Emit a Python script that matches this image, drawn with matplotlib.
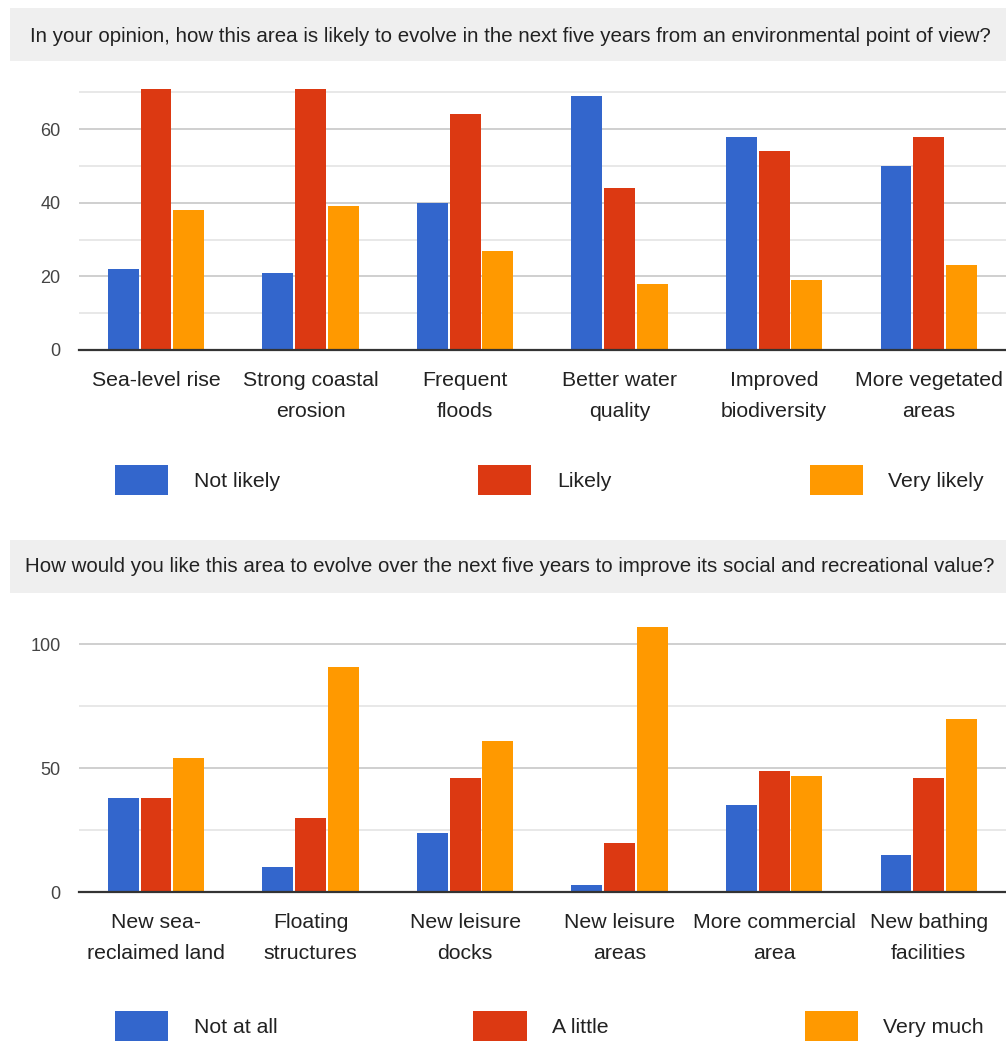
import matplotlib
matplotlib.use("Agg")
import matplotlib.pyplot as plt
from matplotlib.patches import Rectangle, Patch
import numpy as np

# ---------------- data ----------------
top_title = "In your opinion, how this area is likely to evolve in the next five years from an environmental point of view?"
top_categories = ["Sea-level rise", "Strong coastal\nerosion", "Frequent\nfloods",
                  "Better water\nquality", "Improved\nbiodiversity", "More vegetated\nareas"]
top_series = ["Not likely", "Likely", "Very likely"]
top_not_likely = [22, 21, 40, 69, 58, 50]
top_likely = [71, 71, 64, 44, 54, 58]
top_very_likely = [38, 39, 27, 18, 19, 23]
top_yticks = [0, 20, 40, 60]

bot_title = "How would you like this area to evolve over the next five years to improve its social and recreational value?"
bot_categories = ["New sea-\nreclaimed land", "Floating\nstructures", "New leisure\ndocks",
                  "New leisure\nareas", "More commercial\narea", "New bathing\nfacilities"]
bot_series = ["Not at all", "A little", "Very much"]
bot_not_at_all = [38, 10, 24, 3, 35, 15]
bot_a_little = [38, 30, 46, 20, 49, 46]
bot_very_much = [54, 91, 61, 107, 47, 70]
bot_yticks = [0, 50, 100]

colors = ["#3366cc", "#dc3912", "#ff9900"]
FONT = ["Liberation Sans", "DejaVu Sans"]
plt.rcParams["font.family"] = FONT

W, H = 1006, 1043
fig = plt.figure(figsize=(W / 100, H / 100), dpi=100)


def fx(px):
    return px / W


def fy(py):
    return 1 - py / H


def title_box(y0, y1, x0, text, cy):
    fig.patches.append(Rectangle((fx(x0), fy(y1)), 1 - fx(x0), (y1 - y0) / H,
                                 transform=fig.transFigure, facecolor="#efefef",
                                 edgecolor="none", zorder=0))
    fig.text(fx(510), fy(cy), text, ha="center", va="center",
             fontsize=14.8, color="#222222")


def bars(ax, cats, series_vals, ylim, yticks, minor):
    x = np.arange(len(cats))
    w = 0.2
    offs = [-0.212, 0, 0.212]
    for vals, c, o in zip(series_vals, colors, offs):
        ax.bar(x + o, vals, width=w, color=c, zorder=3)
    ax.set_xlim(-0.5, len(cats) - 0.5)
    ax.set_ylim(*ylim)
    ax.set_yticks(yticks)
    ax.set_yticks(minor, minor=True)
    ax.set_xticks(x)
    ax.set_xticklabels(cats, fontsize=15.3, color="#222222", linespacing=1.8)
    ax.tick_params(axis="x", length=0, pad=15)
    ax.tick_params(axis="y", which="both", length=0, pad=13, labelsize=13, labelcolor="#444444")
    ax.grid(axis="y", which="major", color="#cccccc", linewidth=1.3, zorder=0)
    ax.grid(axis="y", which="minor", color="#e6e6e6", linewidth=1.3, zorder=0)
    for s in ["top", "right", "left"]:
        ax.spines[s].set_visible(False)
    ax.spines["bottom"].set_color("#333333")
    ax.spines["bottom"].set_linewidth(1.6)
    ax.spines["bottom"].set_zorder(4)


def legend(names, cy):
    handles = [Patch(facecolor=c, edgecolor="none") for c in colors]
    fig.legend(handles, names, loc="center", ncol=3, mode="expand", frameon=False,
               bbox_to_anchor=(fx(115), fy(cy) - 0.02, fx(984) - fx(115), 0.04),
               fontsize=15.3, handlelength=2.5, handleheight=1.75, handletextpad=1.2,
               borderpad=0, borderaxespad=0, labelcolor="#222222")


# top chart
title_box(8, 61, 10, top_title, 36)
ax1 = fig.add_axes([fx(78.75), fy(350), 1 - fx(78.75), 261.3 / H])
bars(ax1, top_categories, [top_not_likely, top_likely, top_very_likely],
     (0, 71), top_yticks, [10, 30, 50, 70])
legend(top_series, 480)

# bottom chart
title_box(540, 593, 10, bot_title, 567)
ax2 = fig.add_axes([fx(78.75), fy(892.3), 1 - fx(78.75), 277.8 / H])
bars(ax2, bot_categories, [bot_not_at_all, bot_a_little, bot_very_much],
     (0, 112), bot_yticks, [25, 75])
legend(bot_series, 1026)

fig.savefig("out.png", dpi=100, facecolor="white")
